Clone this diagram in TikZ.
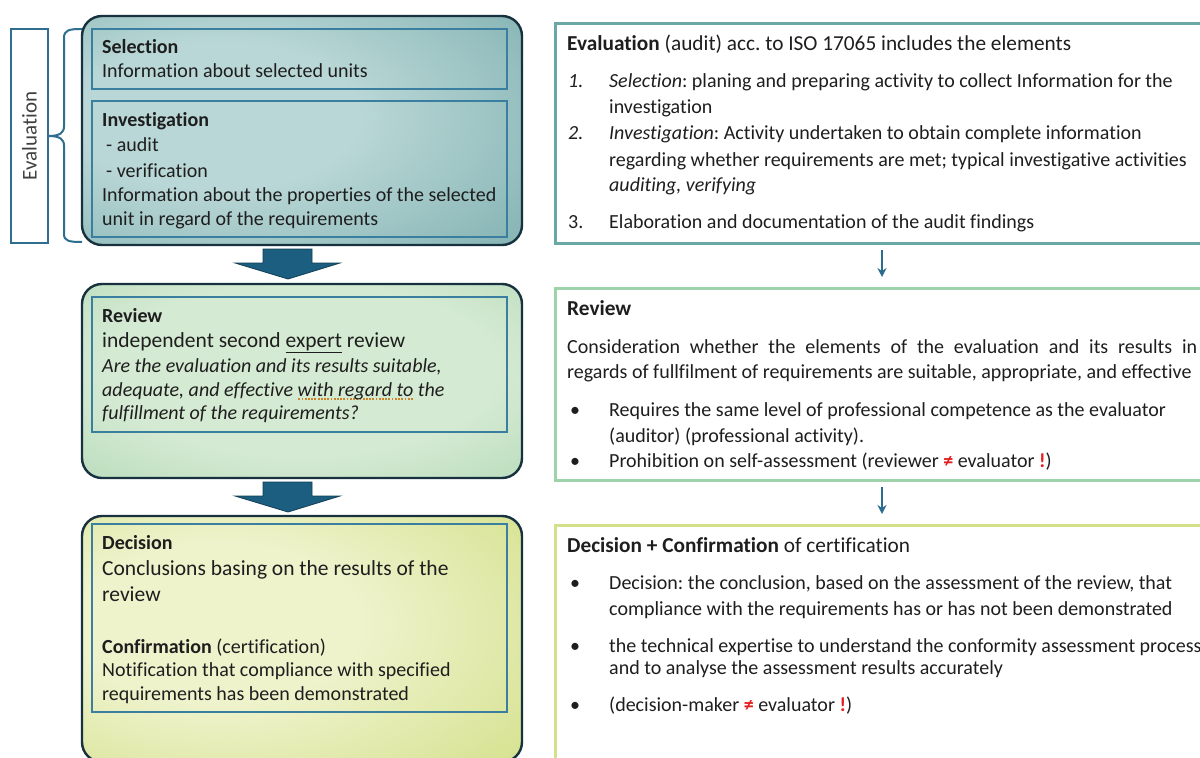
\documentclass[tikz,border=0pt]{standalone}
\usepackage{fontspec}
\setmainfont{Carlito}[Ligatures=NoCommon]
\frenchspacing
\usetikzlibrary{arrows.meta}
\definecolor{ink}{HTML}{1E1E1E}
\definecolor{labgray}{HTML}{404040}
\definecolor{labblue}{HTML}{2E6E8E}
\definecolor{boxedge}{HTML}{17313F}
\definecolor{innerblue}{HTML}{3A7EA0}
\definecolor{tealL}{HTML}{B9D7D6}
\definecolor{tealD}{HTML}{6EA3A4}
\definecolor{greenL}{HTML}{D5EAD3}
\definecolor{greenD}{HTML}{9DCFA5}
\definecolor{yelL}{HTML}{EEF3CC}
\definecolor{yelD}{HTML}{C8D86E}
\definecolor{rteal}{HTML}{6AA8A5}
\definecolor{rgreen}{HTML}{9ED2A9}
\definecolor{ryel}{HTML}{D4E18A}
\definecolor{arrowfill}{HTML}{1B5E7F}
\definecolor{arrowedge}{HTML}{123F55}
\definecolor{smallarrow}{HTML}{2C6C8F}
\definecolor{dotor}{HTML}{C8852A}
\definecolor{warnred}{HTML}{E31E1E}
\pgfdeclareradialshading{glowteal}{\pgfpoint{-12bp}{4bp}}{color(0bp)=(tealL); color(16bp)=(tealL); color(52bp)=(tealD); color(80bp)=(tealD)}
\pgfdeclareradialshading{glowgreen}{\pgfpoint{0bp}{4bp}}{color(0bp)=(greenL); color(22bp)=(greenL); color(55bp)=(greenD); color(80bp)=(greenD)}
\pgfdeclareradialshading{glowyel}{\pgfpoint{-12bp}{4bp}}{color(0bp)=(yelL); color(16bp)=(yelL); color(55bp)=(yelD); color(80bp)=(yelD)}
\newsavebox\dotbox
\newcommand\orangedots[1]{\sbox\dotbox{#1}\rlap{\textcolor{dotor}{\raisebox{-0.38ex}{\hbox to \wd\dotbox{\xleaders\hbox{\kern0.035em\rule{0.09em}{0.09em}\kern0.035em}\hfill}}}}\usebox\dotbox}
\newcommand\redmark[1]{\textcolor{warnred}{\bfseries #1}}
\begin{document}
\begin{tikzpicture}[x=1pt,y=-1pt,
  bigbox/.style={draw=boxedge, line width=2.4pt, rounded corners=20pt, inner sep=0},
  innerbox/.style={draw=innerblue, line width=1.1pt, inner sep=0},
  rbox/.style={draw=#1, line width=3pt, fill=white, inner sep=0},
  tx/.style={anchor=base west, inner sep=0, text=ink, font=\fontsize{20}{24}\selectfont},
  txb/.style={tx, font=\fontsize{21.5}{25}\selectfont},
  hd/.style={tx, font=\fontsize{20}{24}\selectfont\bfseries},
  rt/.style={anchor=base west, inner sep=0, text=ink, font=\fontsize{20}{25}\selectfont},
  rh/.style={rt, font=\fontsize{21.3}{26}\selectfont},
  blockarrow/.style={fill=arrowfill, draw=arrowedge, line width=0.8pt, line join=miter},
  thinarrow/.style={draw=smallarrow, line width=1.6pt, -{Stealth[length=9pt,width=9pt]}}]
\clip (0,0) rectangle (1200,758);
\fill[white] (0,0) rectangle (1200,758);

% ---------- left label and brace
\node (evlab) [draw=labblue, line width=1.1pt, minimum width=37pt, minimum height=214pt, inner sep=0] at (29.5,136) {};
\node (evtxt) [rotate=90, inner sep=0, text=labgray, font=\fontsize{21}{24}\selectfont] at (evlab.center) {Evaluation};
\draw[labblue, line width=2pt] (82,29) .. controls (69,29) and (64,30) .. (64,38) -- (64,126)
  .. controls (64,133) and (60,136) .. (48,136) .. controls (60,136) and (64,139) .. (64,146)
  -- (64,234) .. controls (64,241) and (69,242) .. (82,242);

% ---------- left boxes
\node (b1) [bigbox, shading=glowteal, minimum width=440pt, minimum height=229pt] at (302,130.5) {};
\node (b2) [bigbox, shading=glowgreen, minimum width=440pt, minimum height=194pt] at (302,381) {};
\node (b3) [bigbox, shading=glowyel, minimum width=440pt, minimum height=246pt] at (302,639) {};
\node (s1) [innerbox, minimum width=415pt, minimum height=60pt] at (299.5,59) {};
\node (s2) [innerbox, minimum width=415pt, minimum height=136pt] at (299.5,169) {};
\node (s3) [innerbox, minimum width=415pt, minimum height=135pt] at (299.5,364.5) {};
\node (s4) [innerbox, minimum width=415pt, minimum height=188pt] at (299.5,618) {};

% block arrows
\coordinate (a1) at (288,249);
\coordinate (a2) at (288,482);
\foreach \c in {a1,a2}{
  \fill[blockarrow] (\c) ++(-25,0) -- ++(49,0) -- ++(0,14) -- ++(28,0) -- ++(-52,16) -- ++(-53,-16) -- ++(28,0) -- cycle;
}

% ---------- left texts
\node[hd] (t1) at (102,53) {Selection};
\node[tx] (t2) at (102,77) {Information about selected units};
\node[hd] (t3) at (102,126) {Investigation};
\node[tx] (t4) at (106,151) {- audit};
\node[tx] (t5) at (106,177) {- verification};
\node[tx] (t6) at (102,201) {Information about the properties of the selected};
\node[tx] (t7) at (102,225) {unit in regard of the requirements};

\node[hd] (t8) at (102,322) {Review};
\node[txb] (t9) at (102,347) {independent second \underline{expert} review};
\node[tx] (t10) at (102,372) {\itshape Are the evaluation and its results suitable,};
\node[tx] (t11) at (102,396) {\itshape adequate, and effective \orangedots{with regard to} the};
\node[tx] (t12) at (102,419) {\itshape fulfillment of the requirements?};

\node[hd] (t13) at (102,549) {Decision};
\node[txb] (t14) at (102,575) {Conclusions basing on the results of the};
\node[txb] (t15) at (102,601) {review};
\node[tx] (t16) at (102,653) {\textbf{Confirmation} (certification)};
\node[tx] (t17) at (102,676) {Notification that compliance with specified};
\node[tx] (t18) at (102,700) {requirements has been demonstrated};

% ---------- right boxes
\node (r1) [rbox=rteal, minimum width=660pt, minimum height=220pt] at (885,133) {};
\node (r2) [rbox=rgreen, minimum width=660pt, minimum height=192pt] at (885,384) {};
\node (r3) [rbox=ryel, minimum width=660pt, minimum height=250pt] at (885,650) {};
\coordinate (p1) at (882,250);
\coordinate (p2) at (882,277);
\coordinate (p3) at (882,487);
\coordinate (p4) at (882,514);
\draw[thinarrow] (p1) -- (p2);
\draw[thinarrow] (p3) -- (p4);

% R1 text
\node[rh] (u1) at (567,50) {\textbf{Evaluation} (audit) acc. to ISO 17065 includes the elements};
\node[rt] (u2n) at (568,87) {\itshape 1.};
\node[rt] (u2) at (609,87) {\textit{Selection}: planing and preparing activity to collect Information for the};
\node[rt] (u3) at (609,113) {investigation};
\node[rt] (u4n) at (568,139) {\itshape 2.};
\node[rt] (u4) at (609,139) {\textit{Investigation}: Activity undertaken to obtain complete information};
\node[rt] (u5) at (609,166) {regarding whether requirements are met; typical investigative activities};
\node[rt] (u6) at (609,191) {\itshape auditing, verifying};
\node[rt] (u7n) at (568,228) {3.};
\node[rt] (u7) at (609,228) {Elaboration and documentation of the audit findings};

% R2 text
\node[rh] (v1) at (567,315) {\textbf{Review}};
\node[rt] (v2) at (567,353) {\makebox[630pt][s]{Consideration whether the elements of the evaluation and its results in}};
\node[rt] (v3) at (567,378) {regards of fullfilment of requirements are suitable, appropriate, and effective};
\node[rt] (v4b) at (570,416) {•};
\node[rt] (v4) at (609,416) {Requires the same level of professional competence as the evaluator};
\node[rt] (v5) at (609,442) {(auditor) (professional activity).};
\node[rt] (v6b) at (570,467) {•};
\node[rt] (v6) at (609,467) {Prohibition on self-assessment (reviewer \redmark{≠} evaluator \redmark{!})};

% R3 text
\node[rh] (w1) at (567,552) {\textbf{Decision + Confirmation} of certification};
\node[rt] (w2b) at (570,589) {•};
\node[rt] (w2) at (609,589) {Decision: the conclusion, based on the assessment of the review, that};
\node[rt] (w3) at (609,615) {compliance with the requirements has or has not been demonstrated};
\node[rt] (w4b) at (570,652) {•};
\node[rt] (w4) at (609,652) {the technical expertise to understand the conformity assessment process};
\node[rt] (w5) at (609,674) {and to analyse the assessment results accurately};
\node[rt] (w6b) at (570,711) {•};
\node[rt] (w6) at (609,711) {(decision-maker \redmark{≠} evaluator \redmark{!})};
\end{tikzpicture}
\end{document}
